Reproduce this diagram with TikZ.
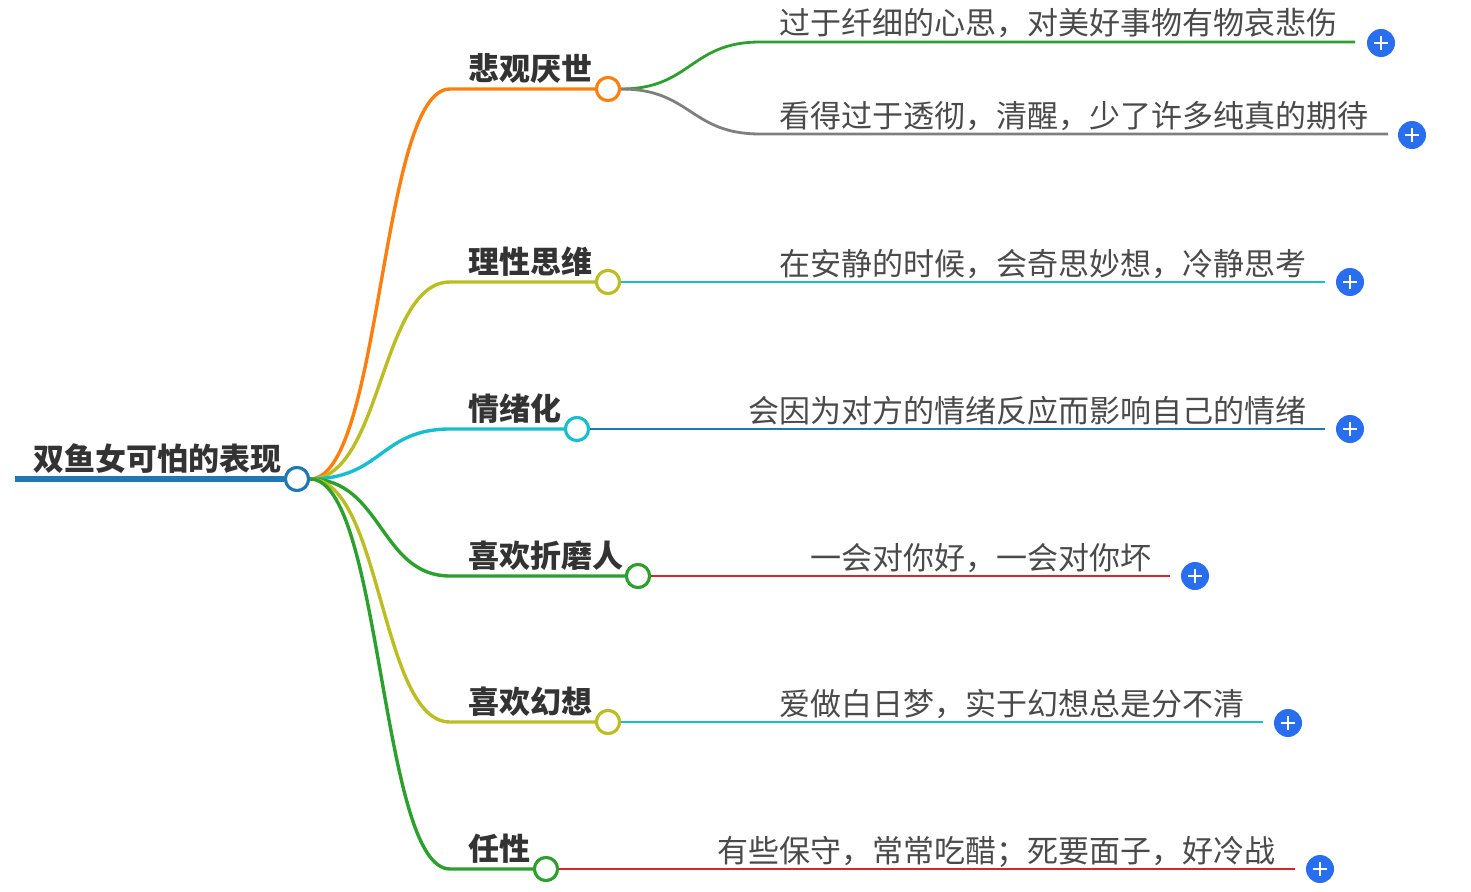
\documentclass[tikz,border=0pt]{standalone}
\usepackage{fontspec}
\setmainfont{Noto Sans CJK SC}
\usetikzlibrary{calc}
\definecolor{cBlue}{HTML}{1F77B4}
\definecolor{cOrange}{HTML}{FF7F0E}
\definecolor{cGreen}{HTML}{2CA02C}
\definecolor{cRed}{HTML}{D62728}
\definecolor{cGray}{HTML}{7F7F7F}
\definecolor{cOlive}{HTML}{BCBD22}
\definecolor{cCyan}{HTML}{17BECF}
\definecolor{cPlus}{HTML}{2A6EF0}
\definecolor{cDark}{HTML}{333333}
\definecolor{cText}{HTML}{4A4A4A}
\tikzset{
  hub/.style={circle,draw=#1,fill=white,line width=3pt,minimum size=23pt,inner sep=0pt},
  branch/.style={draw=#1,line width=3.4pt},
  leafline/.style={draw=#1,line width=2.8pt},
  rootlabel/.style={anchor=base west,inner sep=0pt,text=cDark,font=\fontsize{31}{36}\selectfont\bfseries},
  blabel/.style={anchor=base west,inner sep=0pt,text=cDark,font=\fontsize{31}{36}\selectfont\bfseries},
  leaflabel/.style={anchor=base west,inner sep=0pt,text=cText,font=\fontsize{31}{36}\selectfont},
  plusbtn/.style={circle,fill=cPlus,minimum size=28pt,inner sep=0pt,
    path picture={
      \draw[white,line width=2.4pt] ([xshift=-7pt]path picture bounding box.center) -- ([xshift=7pt]path picture bounding box.center);
      \draw[white,line width=2.4pt] ([yshift=-7pt]path picture bounding box.center) -- ([yshift=7pt]path picture bounding box.center);
    }},
}
\begin{document}
\begin{tikzpicture}[x=1pt,y=-1pt]
\useasboundingbox (0,0) rectangle (1471,891);

% root
\coordinate (rs) at (15,479);
\node[hub=cBlue] (r) at (297,479) {};
\draw[draw=cBlue,line width=6pt] (rs) -- (r.west);
\node[rootlabel] (rl) at (33,470) {双鱼女可怕的表现};

% branch hubs
\node[hub=cOrange] (b1) at (608,89) {};
\node[hub=cOlive]  (b2) at (608,282) {};
\node[hub=cCyan]   (b3) at (577,429) {};
\node[hub=cGreen]  (b4) at (638,576) {};
\node[hub=cOlive]  (b5) at (608,722) {};
\node[hub=cGreen]  (b6) at (546,869) {};

\coordinate (k1) at (450,89);
\coordinate (k2) at (450,282);
\coordinate (k3) at (450,429);
\coordinate (k4) at (450,576);
\coordinate (k5) at (450,722);
\coordinate (k6) at (450,869);

\path[branch=cOrange] (r.east) .. controls +(72,0) and +(-70,0) .. (k1) -- (b1.west);
\path[branch=cOlive]  (r.east) .. controls +(72,0) and +(-70,0) .. (k2) -- (b2.west);
\path[branch=cCyan]   (r.east) .. controls +(72,0) and +(-70,0) .. (k3) -- (b3.west);
\path[branch=cGreen]  (r.east) .. controls +(72,0) and +(-70,0) .. (k4) -- (b4.west);
\path[branch=cOlive]  (r.east) .. controls +(72,0) and +(-70,0) .. (k5) -- (b5.west);
\path[branch=cGreen]  (r.east) .. controls +(72,0) and +(-70,0) .. (k6) -- (b6.west);
% root hub on top
\node[hub=cBlue] at (r) {};

\node[blabel] (l1) at (468,80) {悲观厌世};
\node[blabel] (l2) at (468,273) {理性思维};
\node[blabel] (l3) at (468,420) {情绪化};
\node[blabel] (l4) at (468,567) {喜欢折磨人};
\node[blabel] (l5) at (468,713) {喜欢幻想};
\node[blabel] (l6) at (468,860) {任性};

% leaves
\coordinate (m1a) at (760,42);
\coordinate (e1a) at (1355,42);
\coordinate (m1b) at (760,134);
\coordinate (e1b) at (1388,134);
\coordinate (e2) at (1325,282);
\coordinate (e3) at (1325,429);
\coordinate (e4) at (1170,576);
\coordinate (e5) at (1263,722);
\coordinate (e6) at (1295,869);

\path[leafline=cGreen] (b1.east) .. controls +(70,0) and +(-70,0) .. (m1a) -- (e1a);
\path[leafline=cGray]  (b1.east) .. controls +(70,0) and +(-70,0) .. (m1b) -- (e1b);
\path[leafline=cCyan]  (b2.east) -- (e2);
\path[leafline=cBlue]  (b3.east) -- (e3);
\path[leafline=cRed]   (b4.east) -- (e4);
\path[leafline=cCyan]  (b5.east) -- (e5);
\path[leafline=cRed]   (b6.east) -- (e6);

% hubs again on top of lines
\node[hub=cOrange] at (b1) {};
\node[hub=cOlive]  at (b2) {};
\node[hub=cCyan]   at (b3) {};
\node[hub=cGreen]  at (b4) {};
\node[hub=cOlive]  at (b5) {};
\node[hub=cGreen]  at (b6) {};

\node[leaflabel] (t1a) at (779,35) {过于纤细的心思，对美好事物有物哀悲伤};
\node[leaflabel] (t1b) at (779,127) {看得过于透彻，清醒，少了许多纯真的期待};
\node[leaflabel] (t2) at (779,275) {在安静的时候，会奇思妙想，冷静思考};
\node[leaflabel] (t3) at (748,422) {会因为对方的情绪反应而影响自己的情绪};
\node[leaflabel] (t4) at (810,569) {一会对你好，一会对你坏};
\node[leaflabel] (t5) at (779,715) {爱做白日梦，实于幻想总是分不清};
\node[leaflabel] (t6) at (717,862) {有些保守，常常吃醋；死要面子，好冷战};

% plus buttons
\node[plusbtn] (p1a) at (1381,43) {};
\node[plusbtn] (p1b) at (1412,135) {};
\node[plusbtn] (p2) at (1350,282) {};
\node[plusbtn] (p3) at (1350,429) {};
\node[plusbtn] (p4) at (1195,576) {};
\node[plusbtn] (p5) at (1288,723) {};
\node[plusbtn] (p6) at (1320,869) {};
\end{tikzpicture}
\end{document}
